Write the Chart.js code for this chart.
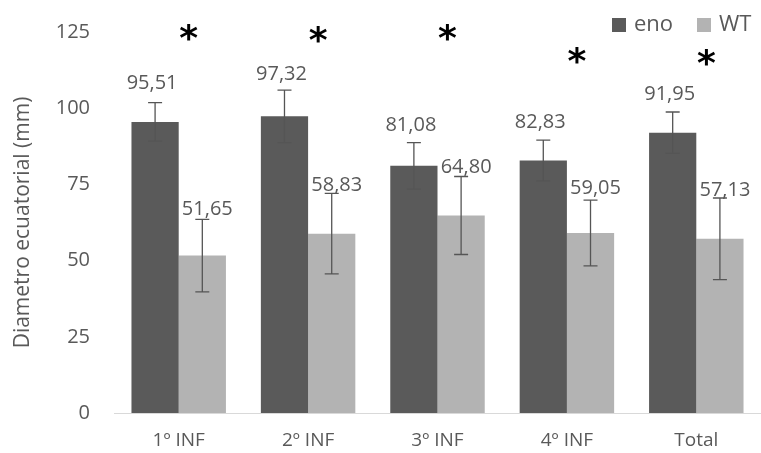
<!DOCTYPE html>
<html><head><meta charset="utf-8">
<script src="https://cdn.jsdelivr.net/npm/chart.js@4/dist/chart.umd.min.js"></script>
<style>html,body{margin:0;padding:0;background:#fff}#wrap{width:761px;height:453px}</style>
</head><body><div id="wrap"><canvas id="c" width="761" height="453"></canvas></div>
<script>
const categories = ["1º INF", "2º INF", "3º INF", "4º INF", "Total"];
const enoValues = [95.51, 97.32, 81.08, 82.83, 91.95];
const wtValues = [51.65, 58.83, 64.80, 59.05, 57.13];
const enoErrors = [6.3, 8.6, 7.6, 6.7, 6.8];
const wtErrors = [11.9, 13.2, 12.8, 10.8, 13.4];
const sigLevels = [124, 123.5, 124, 116.5, 116];
const yTicks = [0, 25, 50, 75, 100, 125];
const labelsText = [
  ["95,51", "97,32", "81,08", "82,83", "91,95"],
  ["51,65", "58,83", "64,80", "59,05", "57,13"]
];
const seriesNames = ["eno", "WT"];
const errors = [enoErrors, wtErrors];

const FONT = "'Open Sans', 'Noto Sans', sans-serif";
const DARK = "#5a5a5a", LIGHT = "#b3b3b3", TXT = "#595959";

const overlay = {
  id: 'overlay',
  afterDatasetsDraw(chart) {
    const ctx = chart.ctx, y = chart.scales.y, x = chart.scales.x;
    ctx.save();
    chart.data.datasets.forEach((ds, di) => {
      const meta = chart.getDatasetMeta(di);
      meta.data.forEach((bar, i) => {
        const v = ds.data[i], e = errors[di][i];
        const top = y.getPixelForValue(v + e), bot = y.getPixelForValue(v - e);
        ctx.strokeStyle = "#555"; ctx.lineWidth = 1.3;
        ctx.beginPath();
        ctx.moveTo(bar.x, top); ctx.lineTo(bar.x, bot);
        ctx.moveTo(bar.x - 7, top); ctx.lineTo(bar.x + 7, top);
        ctx.moveTo(bar.x - 7, bot); ctx.lineTo(bar.x + 7, bot);
        ctx.stroke();
      });
    });
    ctx.font = "20px " + FONT; ctx.fillStyle = TXT; ctx.textAlign = "center"; ctx.textBaseline = "middle";
    chart.data.datasets.forEach((ds, di) => {
      const meta = chart.getDatasetMeta(di);
      meta.data.forEach((bar, i) => {
        const dx = di === 0 ? -3 : 5;
        const errTop = y.getPixelForValue(ds.data[i] + errors[di][i]);
        const ly = ((bar.y - 42) + (errTop - 15)) / 2;
        ctx.fillText(labelsText[di][i], bar.x + dx, ly);
      });
    });
    ctx.font = "bold 36px 'DejaVu Sans', sans-serif"; ctx.fillStyle = "#000";
    categories.forEach((c, i) => {
      ctx.fillText("*", x.getPixelForValue(i) + 10, y.getPixelForValue(sigLevels[i]) + 6);
    });
    ctx.textAlign = "left";
    ctx.font = "22px " + FONT;
    const items = [{n: seriesNames[0], c: DARK, x: 612}, {n: seriesNames[1], c: LIGHT, x: 697}];
    items.forEach(it => {
      ctx.fillStyle = it.c; ctx.fillRect(it.x, 18, 14, 14);
      ctx.fillStyle = TXT; ctx.fillText(it.n, it.x + 22, 25);
    });
    ctx.restore();
  }
};

new Chart(document.getElementById('c'), {
  type: 'bar',
  data: {
    labels: categories,
    datasets: [
      { label: seriesNames[0], data: enoValues, backgroundColor: DARK, categoryPercentage: 0.73, barPercentage: 1.0 },
      { label: seriesNames[1], data: wtValues, backgroundColor: LIGHT, categoryPercentage: 0.73, barPercentage: 1.0 }
    ]
  },
  options: {
    responsive: false, animation: false,
    layout: { padding: { top: 32, left: 0, right: 0, bottom: 0 } },
    plugins: { legend: { display: false }, tooltip: { enabled: false } },
    scales: {
      x: {
        grid: { display: false, drawTicks: false },
        border: { display: true, color: "#d9d9d9", width: 1 },
        ticks: { color: TXT, font: { family: FONT, size: 19 }, padding: 16 },
        afterFit(s) { s.height = 40; s.paddingLeft = 0; s.paddingRight = 0; }
      },
      y: {
        min: 0, max: 125,
        afterBuildTicks(s) { s.ticks = yTicks.map(v => ({ value: v })); },
        grid: { display: false, drawTicks: false },
        border: { display: false },
        ticks: { color: TXT, font: { family: FONT, size: 20 }, padding: 24 },
        title: { display: true, text: "Diametro ecuatorial (mm)", color: TXT, font: { family: FONT, size: 21 }, padding: { top: 10, bottom: 0 } },
        afterFit(s) { s.width = 114; s.paddingTop = 0; s.paddingBottom = 0; }
      }
    }
  },
  plugins: [overlay]
});
</script>
</body></html>
